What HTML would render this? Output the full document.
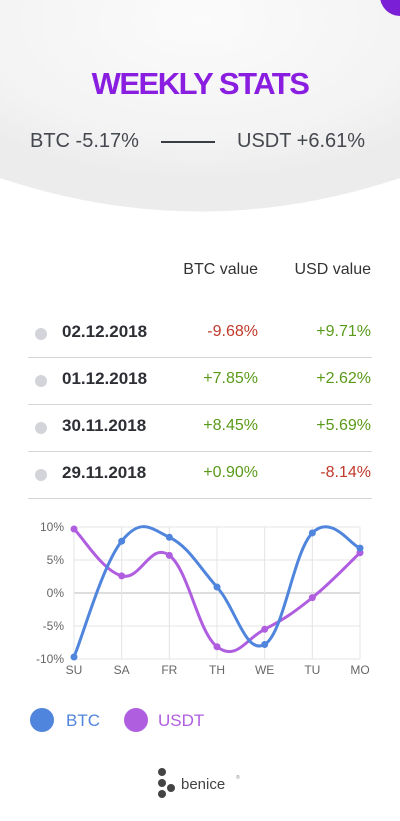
<!DOCTYPE html>
<html><head><meta charset="utf-8">
<style>
body{margin:0;width:400px;height:821px;background:#fff;font-family:"Liberation Sans",sans-serif;position:relative;overflow:hidden}
.abs{position:absolute}
.t{white-space:nowrap}
</style></head><body>
<svg class="abs" style="left:0;top:0" width="400" height="230">
<defs><radialGradient id="g" cx="50%" cy="10%" r="75%"><stop offset="0" stop-color="#fbfbfb"/><stop offset="0.75" stop-color="#f3f3f3"/><stop offset="1" stop-color="#ececec"/></radialGradient></defs>
<path d="M0 0 H400 V178 Q200 245 0 178 Z" fill="url(#g)"/>
<circle cx="400" cy="-4" r="20" fill="#7a1fd6"/>
</svg>
<div class="abs t" style="left:0;width:400px;top:66px;text-align:center;font-size:31px;font-weight:900;color:#8a1ee0;letter-spacing:-1.5px">WEEKLY STATS</div>
<div class="abs t" style="left:30px;top:130px;font-size:20px;color:#45484f">BTC -5.17%</div>
<div class="abs" style="left:161px;top:141px;width:54px;height:2px;background:#3a3d45"></div>
<div class="abs t" style="left:237px;top:130px;font-size:20px;color:#45484f">USDT +6.61%</div>

<div class="abs t" style="right:142px;top:261px;font-size:16px;color:#333">BTC value</div>
<div class="abs t" style="right:29px;top:261px;font-size:16px;color:#333">USD value</div>

<div id="rows"></div>

<svg class="abs" style="left:0;top:510px" width="400" height="180" id="chart"></svg>

<svg class="abs" style="left:0;top:700px" width="400" height="40">
<g><circle cx="42" cy="20" r="12" fill="#4f85dc"/><text x="66" y="26" font-size="17" fill="#4f85dc" font-family="Liberation Sans">BTC</text></g>
<g><circle cx="136" cy="20" r="12" fill="#b05ee0"/><text x="158" y="26" font-size="17" fill="#b05ee0" font-family="Liberation Sans">USDT</text></g>
</svg>

<svg class="abs" style="left:150px;top:765px" width="100" height="36">
<circle cx="12" cy="7" r="4" fill="#444"/><circle cx="12" cy="18" r="4" fill="#444"/><circle cx="12" cy="29" r="4" fill="#444"/><circle cx="21" cy="23" r="4" fill="#444"/>
<text x="31" y="24" font-size="15" fill="#444" font-family="Liberation Sans">benice</text><text x="86" y="14" font-size="5" fill="#888">®</text>
</svg>

<script>
const dates=["02.12.2018","01.12.2018","30.11.2018","29.11.2018"];
const btcVals=["-9.68%","+7.85%","+8.45%","+0.90%"];
const usdVals=["+9.71%","+2.62%","+5.69%","-8.14%"];
const rows=document.getElementById('rows');
dates.forEach((d,i)=>{
  const y=322+i*47;
  const col=v=>v[0]==='-'?'#c0392b':'#5a9a1a';
  const r=document.createElement('div');
  
  
  r.innerHTML=`<div class="abs" style="left:35px;top:${y+6}px;width:12px;height:12px;border-radius:50%;background:#d3d4d9"></div>
<div class="abs t" style="left:62px;top:${y}px;font-size:17px;font-weight:bold;color:#2d2f35">${d}</div>
<div class="abs t" style="right:142px;top:${y+1}px;font-size:16px;color:${col(btcVals[i])}">${btcVals[i]}</div>
<div class="abs t" style="right:29px;top:${y+1}px;font-size:16px;color:${col(usdVals[i])}">${usdVals[i]}</div>
<div class="abs" style="left:28px;top:${y+35}px;width:344px;height:1px;background:#d6d6d6"></div>`;
  rows.appendChild(r);
});

const days=["SU","SA","FR","TH","WE","TU","MO"];
const btcSeries=[-9.7,7.85,8.45,0.9,-7.8,9.1,6.8];
const usdtSeries=[9.7,2.6,5.7,-8.14,-5.5,-0.7,6.1];
const yTicks=[10,5,0,-5,-10];
const svg=document.getElementById('chart');
const NS='http://www.w3.org/2000/svg';
const x0=74,x1=360,yTop=17,yBot=149;
const xs=i=>x0+(x1-x0)*i/(days.length-1);
const ys=v=>yTop+(10-v)/20*(yBot-yTop);
function el(t,a){const e=document.createElementNS(NS,t);for(const k in a)e.setAttribute(k,a[k]);svg.appendChild(e);return e;}
yTicks.forEach(v=>{
  const l=el('line',{x1:x0,x2:x1,y1:ys(v),y2:ys(v),stroke:v===0?'#bbb':'#e4e4e4','stroke-width':1});
  
  
  const t=el('text',{x:64,y:ys(v)+4,'text-anchor':'end','font-size':12,fill:'#666','font-family':'Liberation Sans'});
  t.textContent=v+'%';
  
  
});
days.forEach((d,i)=>{
  const l=el('line',{x1:xs(i),x2:xs(i),y1:yTop,y2:yBot,stroke:'#e4e4e4','stroke-width':1});
  
  
  const t=el('text',{x:xs(i),y:yBot+15,'text-anchor':'middle','font-size':12,fill:'#666','font-family':'Liberation Sans'});
  t.textContent=d;
  
  
});
function path(vals){
  const p=vals.map((v,i)=>[xs(i),ys(v)]);const k=0.4;
  let d=`M${p[0][0]},${p[0][1]}`;
  for(let i=0;i<p.length-1;i++){
    const a=p[i-1]||p[i],b=p[i],c=p[i+1],e=p[i+2]||c;
    d+=` C${b[0]+(c[0]-a[0])*k/2},${b[1]+(c[1]-a[1])*k/2} ${c[0]-(e[0]-b[0])*k/2},${c[1]-(e[1]-b[1])*k/2} ${c[0]},${c[1]}`;
  }
  return d;
}
[[usdtSeries,'#b05ee0','usdt'],[btcSeries,'#4f85dc','btc']].forEach(([vals,c,n])=>{
  const l=el('path',{d:path(vals),fill:'none',stroke:c,'stroke-width':3});
  
  
  vals.forEach((v,i)=>{
    const pt=el('circle',{cx:xs(i),cy:ys(v),r:3.5,fill:c});
    
    
  });
});
</script>
</body></html>
